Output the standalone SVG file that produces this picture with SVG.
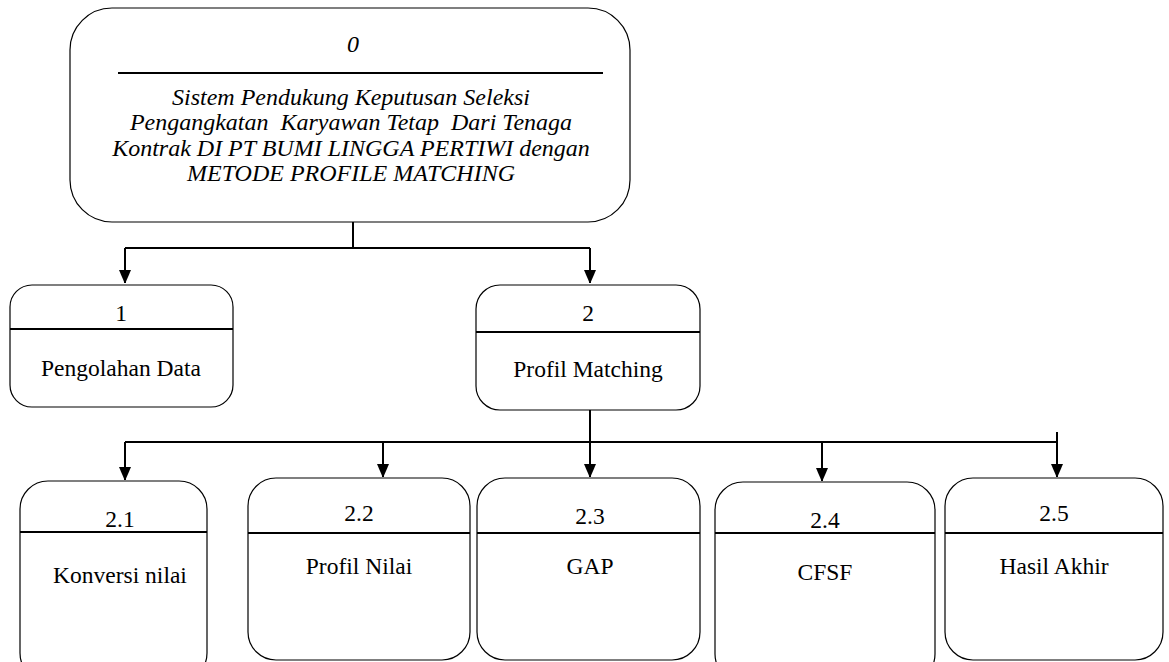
<svg xmlns="http://www.w3.org/2000/svg" width="1169" height="662" viewBox="0 0 1169 662">
<style>
.box{fill:#fff;stroke:#000;stroke-width:1.2}
.div{stroke:#000;stroke-width:2}
.t{font-family:'Liberation Serif','Times New Roman',Times,'DejaVu Serif',serif;font-size:23.5px;fill:#000;text-anchor:middle}
.ti{font-family:'Liberation Serif','Times New Roman',Times,'DejaVu Serif',serif;font-size:24px;font-style:italic;fill:#000;text-anchor:middle}
.c{fill:none;stroke:#000;stroke-width:2}
</style>
<defs>
<marker id="ah" markerWidth="12" markerHeight="14" refX="13" refY="6" orient="auto" markerUnits="userSpaceOnUse">
<path d="M0,0 L14,6 L0,12 Z" fill="#000"/>
</marker>
</defs>
<rect width="1169" height="662" fill="#fff"/>
<g id="connectors">
<path class="c" d="M353,222 V248"/>
<path class="c" d="M125,248 H590"/>
<path class="c" d="M125,248 V283" marker-end="url(#ah)"/>
<path class="c" d="M590,248 V283" marker-end="url(#ah)"/>
<path class="c" d="M590,410 V442"/>
<path class="c" d="M125,442 H1057"/>
<path class="c" d="M1057,432 V442"/>
<path class="c" d="M125,442 V480" marker-end="url(#ah)"/>
<path class="c" d="M383,442 V477" marker-end="url(#ah)"/>
<path class="c" d="M590,442 V477" marker-end="url(#ah)"/>
<path class="c" d="M822,442 V481" marker-end="url(#ah)"/>
<path class="c" d="M1057,442 V477" marker-end="url(#ah)"/>
</g>
<g id="node0">
<rect class="box" x="70" y="8" width="560" height="214" rx="42" ry="42"/>
<line class="div" x1="118" y1="73" x2="603" y2="73"/>
<text class="ti" x="353" y="52">0</text>
<text class="ti" x="351" y="105">Sistem Pendukung Keputusan Seleksi</text>
<text class="ti" x="351" y="130" xml:space="preserve">Pengangkatan  Karyawan Tetap  Dari Tenaga</text>
<text class="ti" x="351" y="156">Kontrak DI PT BUMI LINGGA PERTIWI dengan</text>
<text class="ti" x="351" y="181">METODE PROFILE MATCHING</text>
</g>
<g id="node1">
<rect class="box" x="10" y="285" width="223" height="122" rx="22" ry="22"/>
<line class="div" x1="10" y1="329" x2="233" y2="329"/>
<text class="t" x="121" y="321">1</text>
<text class="t" x="121" y="376">Pengolahan Data</text>
</g>
<g id="node2">
<rect class="box" x="476" y="285" width="224" height="125" rx="24" ry="24"/>
<line class="div" x1="476" y1="332" x2="700" y2="332"/>
<text class="t" x="588" y="321">2</text>
<text class="t" x="588" y="377">Profil Matching</text>
</g>
<g id="node2_1">
<rect class="box" x="20" y="481" width="187" height="200" rx="28" ry="28"/>
<line class="div" x1="20" y1="532" x2="207" y2="532"/>
<text class="t" x="120" y="527">2.1</text>
<text class="t" x="120" y="583">Konversi nilai</text>
</g>
<g id="node2_2">
<rect class="box" x="248" y="478" width="222" height="182" rx="28" ry="28"/>
<line class="div" x1="248" y1="533" x2="470" y2="533"/>
<text class="t" x="359" y="521">2.2</text>
<text class="t" x="359" y="574">Profil Nilai</text>
</g>
<g id="node2_3">
<rect class="box" x="477" y="478" width="223" height="182" rx="28" ry="28"/>
<line class="div" x1="477" y1="533" x2="700" y2="533"/>
<text class="t" x="590" y="524">2.3</text>
<text class="t" x="590" y="574">GAP</text>
</g>
<g id="node2_4">
<rect class="box" x="715" y="482" width="220" height="200" rx="28" ry="28"/>
<line class="div" x1="715" y1="533" x2="935" y2="533"/>
<text class="t" x="825" y="528">2.4</text>
<text class="t" x="825" y="580">CFSF</text>
</g>
<g id="node2_5">
<rect class="box" x="945" y="478" width="218" height="182" rx="28" ry="28"/>
<line class="div" x1="945" y1="533" x2="1163" y2="533"/>
<text class="t" x="1054" y="521">2.5</text>
<text class="t" x="1054" y="574">Hasil Akhir</text>
</g>
</svg>
